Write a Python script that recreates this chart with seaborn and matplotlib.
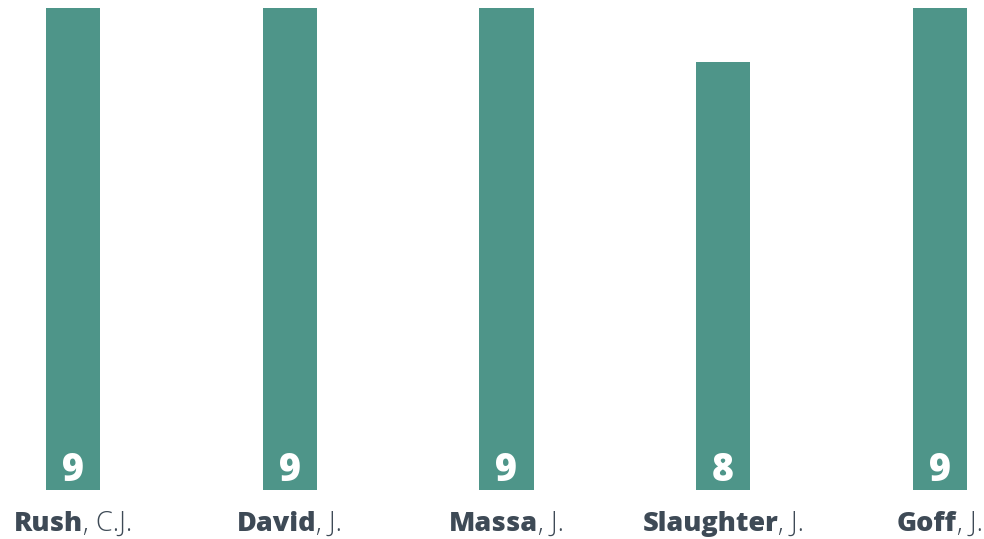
import matplotlib
matplotlib.use("Agg")
import matplotlib.pyplot as plt
import matplotlib.transforms as mtransforms
import seaborn as sns
import pandas as pd

surnames = ["Rush", "David", "Massa", "Slaughter", "Goff"]
initials = [", C.J.", ", J.", ", J.", ", J.", ", J."]
values = [9, 9, 9, 8, 9]

BAR = "#4E9589"
TXT = "#3E4A56"

sns.set_theme(style="white")
plt.rcParams['font.family'] = ['Open Sans', 'DejaVu Sans']

df = pd.DataFrame({"name": surnames, "value": values})

W, H = 984, 539
fig = plt.figure(figsize=(W / 100, H / 100), dpi=100)
ax = fig.add_axes([0, (H - 490) / H, 1, 482 / H])
sns.barplot(data=df, x="name", y="value", color=BAR, saturation=1, width=0.25,
            linewidth=0, ax=ax)
ax.set_xlim(-73 / 216.75, (W - 73) / 216.75)
ax.set_ylim(0, 9)
ax.axis("off")

for i, v in enumerate(values):
    ax.annotate(str(v), xy=(i, 0), xytext=(0, 9), textcoords="offset pixels",
                ha="center", va="baseline", color="white", fontsize=27,
                fontweight="heavy")

fig.canvas.draw()
r = fig.canvas.get_renderer()
for i, (s, ini) in enumerate(zip(surnames, initials)):
    t1 = ax.text(i, 0, s, fontsize=19.5, fontweight="heavy", color=TXT,
                 ha="left", va="baseline")
    t2 = ax.text(i, 0, ini, fontsize=19.5, fontweight="light", color=TXT,
                 ha="left", va="baseline")
    w1 = t1.get_window_extent(r).width
    w2 = t2.get_window_extent(r).width
    total = w1 + w2
    base = ax.transData
    t1.set_transform(base + mtransforms.Affine2D().translate(-total / 2, -41))
    t2.set_transform(base + mtransforms.Affine2D().translate(-total / 2 + w1, -41))

fig.savefig("out.png", dpi=100, facecolor="white")
